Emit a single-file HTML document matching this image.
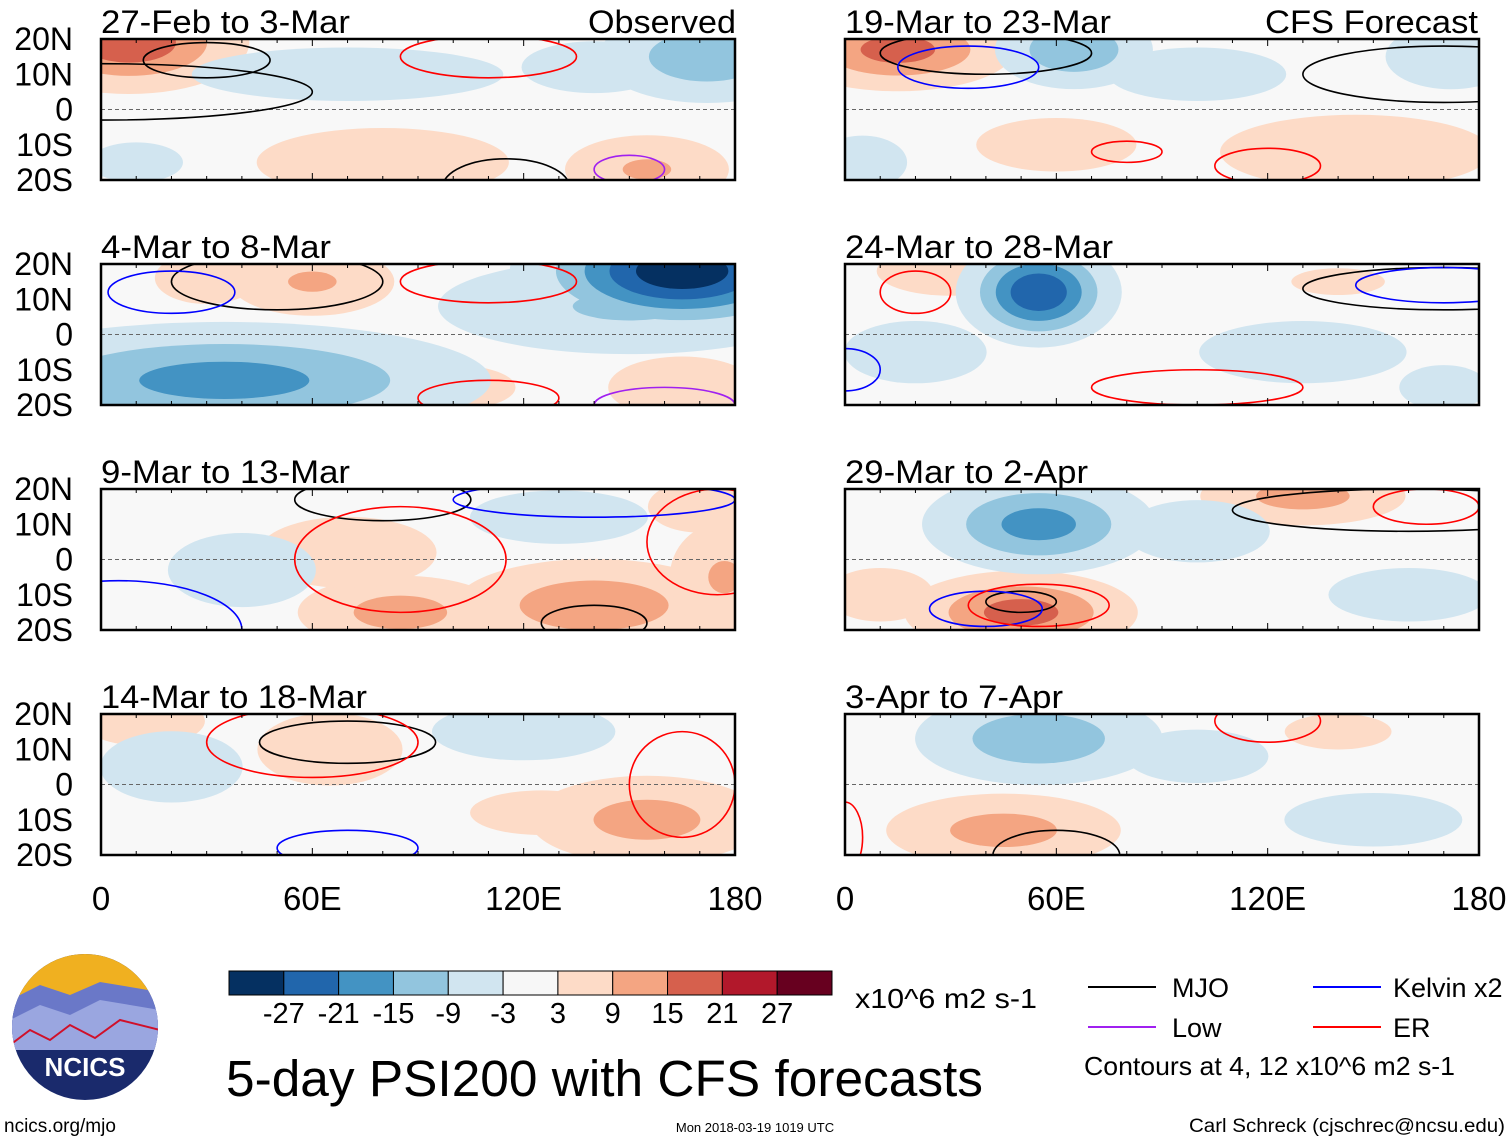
<!DOCTYPE html>
<html><head><meta charset="utf-8">
<style>
body{margin:0;background:#fff;font-family:"Liberation Sans",sans-serif;}
svg{display:block}
</style></head>
<body>
<svg id="chart" width="1510" height="1142" viewBox="0 0 1510 1142"></svg>
<script>
// ---- data ----
const panelTitles = ["27-Feb to 3-Mar","4-Mar to 8-Mar","9-Mar to 13-Mar","14-Mar to 18-Mar","19-Mar to 23-Mar","24-Mar to 28-Mar","29-Mar to 2-Apr","3-Apr to 7-Apr"];
const titleWidths = [249,230,249,266,266,268,243,218];
const yTickLabels = ["20N","10N","0","10S","20S"];
const yTickLats = [20,10,0,-10,-20];
const xTickLabels = ["0","60E","120E","180"];
const xTickLons = [0,60,120,180];
const colorLevels = [-27,-21,-15,-9,-3,3,9,15,21,27];
const colorFills = ["#053061","#2166ac","#4393c3","#92c5de","#d1e5f0","#f7f7f7","#fddbc7","#f4a582","#d6604d","#b2182b","#67001f"];
// anomaly blobs per panel: [lon, lat, sigmaLon, sigmaLat, peak]
const blobs0 = [[8,19,14,6,20],[172,15,14,6,-14],[70,10,35,6,-5],[140,12,14,5,-6],[80,-15,22,6,7],[155,-17,12,5,10],[10,-15,14,6,-4]];
const blobs1 = [[165,18,18,7,-32],[150,8,28,7,-10],[35,-13,32,7,-18],[60,15,12,5,10],[30,16,10,5,6],[100,-15,14,5,5],[165,-15,12,5,8]];
const blobs2 = [[85,-15,14,5,12],[140,-13,18,6,14],[177,-5,8,8,10],[70,2,20,8,5],[40,-3,12,6,-8],[130,12,20,6,-5],[170,15,10,5,6]];
const blobs3 = [[155,-10,16,6,12],[65,10,14,7,6],[20,5,16,8,-5],[120,15,16,5,-7],[12,18,10,4,8],[125,-8,16,5,5]];
const blobs4 = [[15,17,14,5,18],[65,17,10,5,-15],[172,15,10,5,-9],[100,10,20,6,-5],[145,-12,22,6,8],[60,-10,18,6,5],[5,-15,10,6,-5]];
const blobs5 = [[55,12,9,6,-27],[20,-5,16,7,-5],[130,-5,20,6,-6],[30,18,12,4,8],[170,-15,10,5,-5],[140,15,14,4,4]];
const blobs6 = [[55,10,14,6,-18],[50,-15,14,5,18],[130,18,14,4,12],[10,-10,12,6,5],[100,8,14,6,-6],[160,-10,18,6,-5]];
const blobs7 = [[55,13,16,6,-14],[45,-13,16,5,12],[100,8,16,6,-5],[140,15,12,4,5],[150,-10,20,6,-5]];
const panelBlobs = [blobs0,blobs1,blobs2,blobs3,blobs4,blobs5,blobs6,blobs7];
// contours per panel: [lon, lat, rLon, rLat, type]
const contours0 = [[30,14,18,5,"MJO"],[110,15,25,6,"ER"],[0,5,60,8,"MJO"],[115,-22,18,8,"MJO"],[150,-17,10,4,"Low"]];
const contours1 = [[50,15,30,8,"MJO"],[110,15,25,6,"ER"],[20,12,18,6,"Kelvin"],[160,-20,20,5,"Low"],[110,-18,20,5,"ER"]];
const contours2 = [[80,17,25,6,"MJO"],[85,0,30,15,"ER"],[175,5,20,15,"ER"],[140,-18,15,5,"MJO"],[5,-20,35,14,"Kelvin"],[140,17,40,5,"Kelvin"]];
const contours3 = [[70,12,25,6,"MJO"],[60,12,30,10,"ER"],[165,0,15,15,"ER"],[70,-18,20,5,"Kelvin"]];
const contours4 = [[40,16,30,6,"MJO"],[170,10,40,8,"MJO"],[80,-12,10,3,"ER"],[120,-16,15,5,"ER"],[35,12,20,6,"Kelvin"]];
const contours5 = [[170,13,40,6,"MJO"],[170,14,25,5,"Kelvin"],[20,12,10,6,"ER"],[100,-15,30,5,"ER"],[0,-10,10,6,"Kelvin"]];
const contours6 = [[160,14,50,6,"MJO"],[50,-12,10,3,"MJO"],[40,-14,16,5,"Kelvin"],[55,-13,20,6,"ER"],[165,15,15,5,"ER"]];
const contours7 = [[120,18,15,6,"ER"],[60,-20,18,7,"MJO"],[0,-15,5,10,"ER"]];
const panelContours = [contours0,contours1,contours2,contours3,contours4,contours5,contours6,contours7];
const lineColors = {MJO:"#000",Kelvin:"#0000ff",Low:"#a020f0",ER:"#ff0000"};

// ---- layout ----
const NS="http://www.w3.org/2000/svg";
const svg=document.getElementById('chart');
function el(tag,attrs,parent){const e=document.createElementNS(NS,tag);for(const k in attrs)e.setAttribute(k,attrs[k]);(parent||svg).appendChild(e);return e;}
const colX=[101,845], panelW=634, rowY=[39,264,489,714], panelH=141;
const spread=1.25;
function xScale(px,lon){return px+lon/180*panelW;}
function yScale(py,lat){return py+(20-lat)/40*panelH;}
function colorFor(v){let i=0;while(i<colorLevels.length&&v>colorLevels[i])i++;return colorFills[i];}

for(let p=0;p<8;p++){
  const px=colX[p<4?0:1], py=rowY[p%4];
  const g=el('g',{},svg);
  
  
  const cid='clip'+p;
  const cp=el('clipPath',{id:cid},g);el('rect',{x:px,y:py,width:panelW,height:panelH},cp);
  const inner=el('g',{'clip-path':'url(#'+cid+')'},g);
  el('rect',{x:px,y:py,width:panelW,height:panelH,fill:'#f8f8f8'},inner);
  const kx=panelW/180*spread, ky=panelH/40*spread;
  const posL=[3,9,15,21,27], negL=[-3,-9,-15,-21,-27];
  [posL,negL].forEach(levels=>{
    levels.forEach(L=>{
      panelBlobs[p].forEach(b=>{
        const v=b[4];
        if(Math.sign(v)!==Math.sign(L)||Math.abs(v)<=Math.abs(L))return;
        const d=Math.sqrt(2*Math.log(v/L));
        const e=el('ellipse',{cx:xScale(px,b[0]),cy:yScale(py,b[1]),rx:b[2]*d*kx,ry:b[3]*d*ky,fill:colorFor(L+Math.sign(L)*0.01)},inner);
        
        
      });
    });
  });
  el('line',{x1:px,x2:px+panelW,y1:yScale(py,0),y2:yScale(py,0),stroke:'#666','stroke-dasharray':'4,3','stroke-width':1},inner);
  panelContours[p].forEach(c=>{
    const e=el('ellipse',{cx:xScale(px,c[0]),cy:yScale(py,c[1]),rx:c[2]*panelW/180,ry:c[3]*panelH/40,fill:'none',stroke:lineColors[c[4]],'stroke-width':1.6},inner);
    
    
  });
  el('rect',{x:px,y:py,width:panelW,height:panelH,fill:'none',stroke:'#000','stroke-width':2.5},g);
  for(let lon=0;lon<=180;lon+=10){
    const x=xScale(px,lon),len=lon%60===0?7:4;
    el('line',{x1:x,x2:x,y1:py+panelH,y2:py+panelH-len,stroke:'#000','stroke-width':1},g);
    el('line',{x1:x,x2:x,y1:py,y2:py+len,stroke:'#000','stroke-width':1},g);
  }
  const t=el('text',{x:px,y:py-6,'font-size':32,fill:'#000',textLength:titleWidths[p],lengthAdjust:'spacingAndGlyphs'},g);t.textContent=panelTitles[p];
  
  if(p<4){
    yTickLats.forEach((lat,i)=>{
      const tt=el('text',{x:73,y:yScale(py,lat)+11,'font-size':32,'text-anchor':'end'},g);tt.textContent=yTickLabels[i];
      
    });
  }
}
const o=el('text',{x:736,y:33,'font-size':32,'text-anchor':'end',textLength:148,lengthAdjust:'spacingAndGlyphs'});o.textContent="Observed";

const f=el('text',{x:1478,y:33,'font-size':32,'text-anchor':'end',textLength:213,lengthAdjust:'spacingAndGlyphs'});f.textContent="CFS Forecast";

colX.forEach(px=>{xTickLons.forEach((lon,i)=>{
  const t=el('text',{x:xScale(px,lon),y:910,'font-size':33,'text-anchor':'middle'});t.textContent=xTickLabels[i];
  
});});

// colorbar
const cbX=229,cbW=603,cbY=971,cbH=24,bw=cbW/colorFills.length;
colorFills.forEach((c,i)=>{
  const r=el('rect',{x:cbX+i*bw,y:cbY,width:bw,height:cbH,fill:c,stroke:'#000','stroke-width':1});
  
});
colorLevels.forEach((v,i)=>{
  const t=el('text',{x:cbX+(i+1)*bw,y:1023,'font-size':29,'text-anchor':'middle'});t.textContent=v;
  
});
const u=el('text',{x:855,y:1008,'font-size':28,textLength:182,lengthAdjust:'spacingAndGlyphs'});u.textContent="x10^6 m2 s-1";

const ti=el('text',{x:226,y:1096,'font-size':51,textLength:757,lengthAdjust:'spacingAndGlyphs'});ti.textContent="5-day PSI200 with CFS forecasts";


// legend
[["MJO",1088,987,1172],["Kelvin x2",1313,987,1393],["Low",1088,1027,1172],["ER",1313,1027,1393]].forEach(l=>{
  const key=l[0].split(' ')[0];
  el('line',{x1:l[1],x2:l[1]+68,y1:l[2],y2:l[2],stroke:lineColors[key],'stroke-width':2});
  const t=el('text',{x:l[3],y:l[2]+10,'font-size':27});t.textContent=l[0];
  
});
const ct=el('text',{x:1084,y:1075,'font-size':26,textLength:371,lengthAdjust:'spacingAndGlyphs'});ct.textContent="Contours at 4, 12 x10^6 m2 s-1";


// logo
const lg=el('g',{});
const lc=el('clipPath',{id:'logoclip'},lg);el('circle',{cx:85,cy:1027,r:73},lc);
const li=el('g',{'clip-path':'url(#logoclip)'},lg);
el('rect',{x:10,y:950,width:150,height:160,fill:'#1a2a6c'},li);
el('rect',{x:10,y:950,width:150,height:45,fill:'#f0b020'},li);
el('path',{d:'M10 1000 L40 985 L70 995 L100 982 L160 992 L160 1040 L10 1040Z',fill:'#6a78c8'},li);
el('path',{d:'M10 1020 L40 1005 L70 1015 L100 1000 L160 1010 L160 1050 L10 1050Z',fill:'#9aa6e0'},li);
el('path',{d:'M10 1045 L30 1030 L50 1040 L70 1025 L95 1038 L120 1020 L160 1030',fill:'none',stroke:'#d0102a','stroke-width':2},li);
const lt=el('text',{x:85,y:1076,'font-size':26,'font-weight':'bold',fill:'#fff','text-anchor':'middle'},lg);lt.textContent="NCICS";
const s1=el('text',{x:4,y:1132,'font-size':19});s1.textContent="ncics.org/mjo";

const s2=el('text',{x:755,y:1132,'font-size':13,'text-anchor':'middle'});s2.textContent="Mon 2018-03-19 1019 UTC";

const s3=el('text',{x:1505,y:1132,'font-size':19,'text-anchor':'end',textLength:316,lengthAdjust:'spacingAndGlyphs'});s3.textContent="Carl Schreck (cjschrec@ncsu.edu)";

</script>
</body></html>
